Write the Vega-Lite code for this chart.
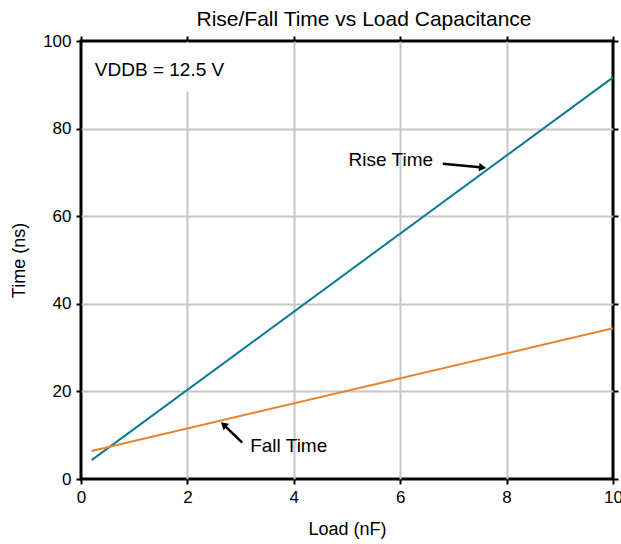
{
  "$schema": "https://vega.github.io/schema/vega-lite/v6.json",
  "width": 532,
  "height": 438,
  "autosize": {"type": "none"},
  "padding": {"left": 81, "top": 41, "right": 8, "bottom": 65},
  "title": {"text": "Rise/Fall Time vs Load Capacitance", "font": "Liberation Sans", "fontSize": 21, "fontWeight": "normal", "color": "black", "offset": 2, "anchor": "middle", "dx": 17},
  "config": {
    "view": {"stroke": "black", "strokeWidth": 3},
    "font": "Liberation Sans",
    "axis": {"labelFont": "Liberation Sans", "titleFont": "Liberation Sans", "labelFontSize": 17, "titleFontSize": 18, "titleFontWeight": "normal", "labelColor": "black", "titleColor": "black", "tickColor": "black", "tickWidth": 2, "tickSize": 5, "domain": false, "gridColor": {"condition": {"test": "datum.value === 0 || datum.value === 10 || datum.value === 100", "value": "transparent"}, "value": "#c6c6c6"}, "gridWidth": 2}
  },
  "resolve": {"axis": {"x": "independent", "y": "independent"}},
  "datasets": {
    "lines": [
      {"load": 0.2, "time": 4.3, "series": "Rise Time"},
      {"load": 10, "time": 91.7, "series": "Rise Time"},
      {"load": 0.2, "time": 6.4, "series": "Fall Time"},
      {"load": 10, "time": 34.4, "series": "Fall Time"}
    ],
    "labels": [
      {"x": 0.26, "y": 93.4, "text": "VDDB = 12.5 V"},
      {"x": 5.03, "y": 72.8, "text": "Rise Time"},
      {"x": 3.18, "y": 7.5, "text": "Fall Time"}
    ],
    "arrows": [
      {"x": 6.8, "y": 72.0, "x2": 7.55, "y2": 71.1, "angle": 6},
      {"x": 3.03, "y": 8.3, "x2": 2.68, "y2": 12.4, "angle": 220}
    ],
    "box": [
      {"x": 0.1, "x2": 3.2, "y": 88.5, "y2": 99.5}
    ]
  },
  "layer": [
    {
      "data": {"name": "box"},
      "mark": {"type": "rect", "fill": "white"},
      "encoding": {
        "x": {"field": "x", "type": "quantitative", "scale": {"domain": [0, 10], "nice": false}, "axis": {"title": "Load (nF)", "orient": "bottom", "values": [0, 2, 4, 6, 8, 10], "grid": true, "labelPadding": 5, "titlePadding": 15, "labelFlush": false}},
        "x2": {"field": "x2"},
        "y": {"field": "y", "type": "quantitative", "scale": {"domain": [0, 100], "nice": false}, "axis": {"title": "Time (ns)", "orient": "left", "values": [0, 20, 40, 60, 80, 100], "grid": true, "labelPadding": 5, "titlePadding": 14, "labelFlush": false}},
        "y2": {"field": "y2"}
      }
    },
    {
      "data": {"name": "lines"},
      "mark": {"type": "line", "strokeWidth": 2},
      "encoding": {
        "x": {"field": "load", "type": "quantitative", "axis": {"orient": "top", "values": [0, 2, 4, 6, 8, 10], "labels": false, "title": null, "grid": false}},
        "y": {"field": "time", "type": "quantitative", "axis": {"orient": "right", "values": [0, 20, 40, 60, 80, 100], "labels": false, "title": null, "grid": false}},
        "color": {"field": "series", "type": "nominal", "scale": {"domain": ["Rise Time", "Fall Time"], "range": ["#0b7a96", "#e8832a"]}, "legend": null}
      }
    },
    {
      "data": {"name": "labels"},
      "mark": {"type": "text", "align": "left", "baseline": "middle", "fontSize": 19, "font": "Liberation Sans", "color": "black"},
      "encoding": {
        "x": {"field": "x", "type": "quantitative", "axis": null},
        "y": {"field": "y", "type": "quantitative", "axis": null},
        "text": {"field": "text"}
      }
    },
    {
      "data": {"name": "arrows"},
      "mark": {"type": "rule", "strokeWidth": 2.5, "color": "black"},
      "encoding": {
        "x": {"field": "x", "type": "quantitative", "axis": null},
        "y": {"field": "y", "type": "quantitative", "axis": null},
        "x2": {"field": "x2"},
        "y2": {"field": "y2"}
      }
    },
    {
      "data": {"name": "arrows"},
      "mark": {"type": "point", "shape": "triangle-right", "filled": true, "color": "black", "size": 70, "opacity": 1},
      "encoding": {
        "x": {"field": "x2", "type": "quantitative", "axis": null},
        "y": {"field": "y2", "type": "quantitative", "axis": null},
        "angle": {"field": "angle", "type": "quantitative", "scale": null}
      }
    }
  ]
}
